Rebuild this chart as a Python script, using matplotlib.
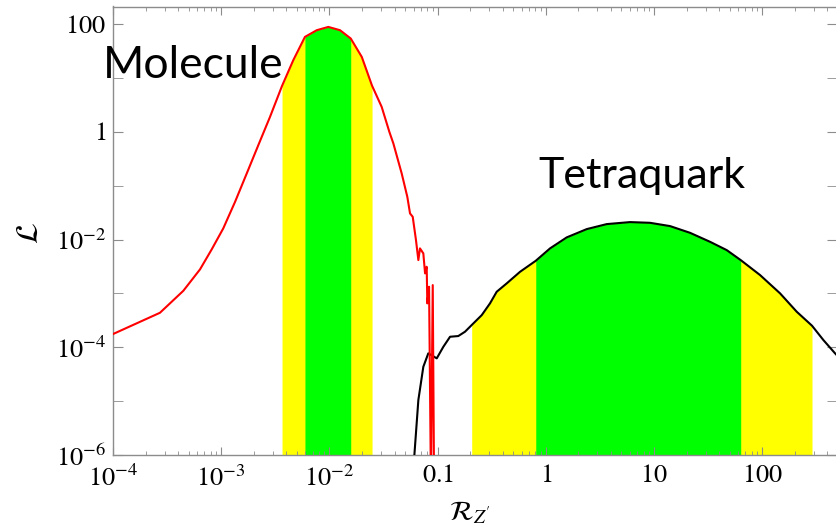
import numpy as np
import matplotlib
matplotlib.use("Agg")
import matplotlib.pyplot as plt
from matplotlib.ticker import LogLocator, FixedLocator, FixedFormatter, NullFormatter

# ===================== style =====================
plt.rcParams['mathtext.fontset'] = 'stix'
plt.rcParams['font.family'] = ['Liberation Serif', 'DejaVu Serif']

# ===================== data (log10 values) =====================
# molecule likelihood (red)
mol_logx = [-4.000, -3.566, -3.350, -3.196, -3.088, -2.981, -2.872, -2.764, -2.657,
            -2.549, -2.438, -2.334, -2.226, -2.117, -2.010, -1.902, -1.803, -1.701,
            -1.606, -1.517, -1.446, -1.409, -1.332, -1.280, -1.255, -1.230, -1.200,
            -1.178, -1.163, -1.132, -1.116, -1.101, -1.095, -1.079, -1.062, -1.045,
            -1.033]
mol_logy = [-3.755, -3.360, -2.952, -2.555, -2.184, -1.794, -1.301, -0.774, -0.249,
            0.276, 0.850, 1.328, 1.761, 1.885, 1.946, 1.885, 1.731, 1.390,
            0.855, 0.462, -0.002, -0.217, -0.774, -1.208, -1.516, -1.579, -2.011,
            -2.382, -2.165, -2.258, -2.629, -2.506, -3.186, -2.877, -6.5, -2.846,
            -6.5]

# tetraquark likelihood (black)
tet_logx = [-1.222, -1.178, -1.132, -1.086, -1.008, -0.947, -0.885, -0.809, -0.747,
            -0.685, -0.592, -0.516, -0.454, -0.361, -0.238, -0.093, 0.039, 0.193,
            0.378, 0.563, 0.778, 0.963, 1.148, 1.333, 1.518, 1.672, 1.801,
            1.980, 2.165, 2.319, 2.460, 2.565, 2.673, 2.700]
tet_logy = [-6.2, -4.980, -4.362, -4.113, -4.206, -3.991, -3.805, -3.792, -3.712,
            -3.588, -3.403, -3.186, -2.970, -2.814, -2.599, -2.395, -2.165, -1.961,
            -1.807, -1.714, -1.677, -1.690, -1.751, -1.876, -2.043, -2.197, -2.382,
            -2.660, -3.000, -3.341, -3.600, -3.866, -4.113, -4.170]

# confidence bands (log10 of R_Z')
mol_yellow = (-2.438, -1.606)
mol_green = (-2.226, -1.803)
tet_yellow = (-0.685, 2.460)
tet_green = (-0.093, 1.801)

xtick_vals = [1e-4, 1e-3, 1e-2, 0.1, 1, 10, 100]
xtick_labels = [r'$10^{-4}$', r'$10^{-3}$', r'$10^{-2}$', r'$0.1$', r'$1$', r'$10$', r'$100$']
ytick_vals = [100, 1, 1e-2, 1e-4, 1e-6]
ytick_labels = [r'$100$', r'$1$', r'$10^{-2}$', r'$10^{-4}$', r'$10^{-6}$']

mol_x = 10 ** np.array(mol_logx)
mol_y = 10 ** np.array(mol_logy)
tet_x = 10 ** np.array(tet_logx)
tet_y = 10 ** np.array(tet_logy)

# ===================== plot =====================
W, H = 836, 527
fig = plt.figure(figsize=(W / 100, H / 100), dpi=100)
ax = fig.add_axes([113 / W, 1 - 455 / H, 724 / W, 448.5 / H])

ymin, ymax = 1e-6, 10 ** 2.325
xmin, xmax = 1e-4, 10 ** 2.691


def band(ax, x, y, lims, color):
    lo, hi = 10 ** lims[0], 10 ** lims[1]
    m = (x >= lo * 0.9999) & (x <= hi * 1.0001)
    ax.fill_between(x[m], ymin, y[m], color=color, lw=0, zorder=1)


band(ax, mol_x, mol_y, mol_yellow, '#ffff00')
band(ax, mol_x, mol_y, mol_green, '#00ff00')
band(ax, tet_x, tet_y, tet_yellow, '#ffff00')
band(ax, tet_x, tet_y, tet_green, '#00ff00')

ax.plot(tet_x, tet_y, color='black', lw=1.5, zorder=3)
ax.plot(mol_x, mol_y, color='#ff0000', lw=1.5, zorder=4)

ax.set_xscale('log')
ax.set_yscale('log')
ax.set_xlim(xmin, xmax)
ax.set_ylim(ymin, ymax)

ax.xaxis.set_major_locator(FixedLocator(xtick_vals))
ax.xaxis.set_major_formatter(FixedFormatter(xtick_labels))
ax.xaxis.set_minor_locator(LogLocator(base=10, subs=np.arange(2, 10)))
ax.xaxis.set_minor_formatter(NullFormatter())

ax.yaxis.set_major_locator(FixedLocator(ytick_vals))
ax.yaxis.set_major_formatter(FixedFormatter(ytick_labels))
ax.yaxis.set_minor_locator(FixedLocator([10.0, 0.1, 1e-3, 1e-5]))
ax.yaxis.set_minor_formatter(NullFormatter())

gray = '#8c8c8c'
for s in ax.spines.values():
    s.set_color(gray)
    s.set_linewidth(1.0)
ax.tick_params(which='both', direction='in', top=True, right=True, color=gray)
ax.tick_params(axis='x', which='major', length=6, labelsize=19, pad=7)
ax.tick_params(axis='x', which='minor', length=3)
ax.tick_params(axis='y', which='major', length=7, labelsize=19, pad=5)
ax.tick_params(axis='y', which='minor', length=7)

ax.set_ylabel(r'$\mathcal{L}$', fontsize=22)
ax.yaxis.set_label_coords(-0.094, 0.495)
ax.set_xlabel(r"$\mathcal{R}_{Z'}$", fontsize=20)
ax.xaxis.set_label_coords(0.493, -0.100)

fig.text(103 / W, 1 - 78 / H, 'Molecule', family='Lato', fontsize=32, va='baseline', ha='left')
fig.text(538 / W, 1 - 188 / H, 'Tetraquark', family='Lato', fontsize=31, va='baseline', ha='left')

fig.savefig('out.png', dpi=100)
